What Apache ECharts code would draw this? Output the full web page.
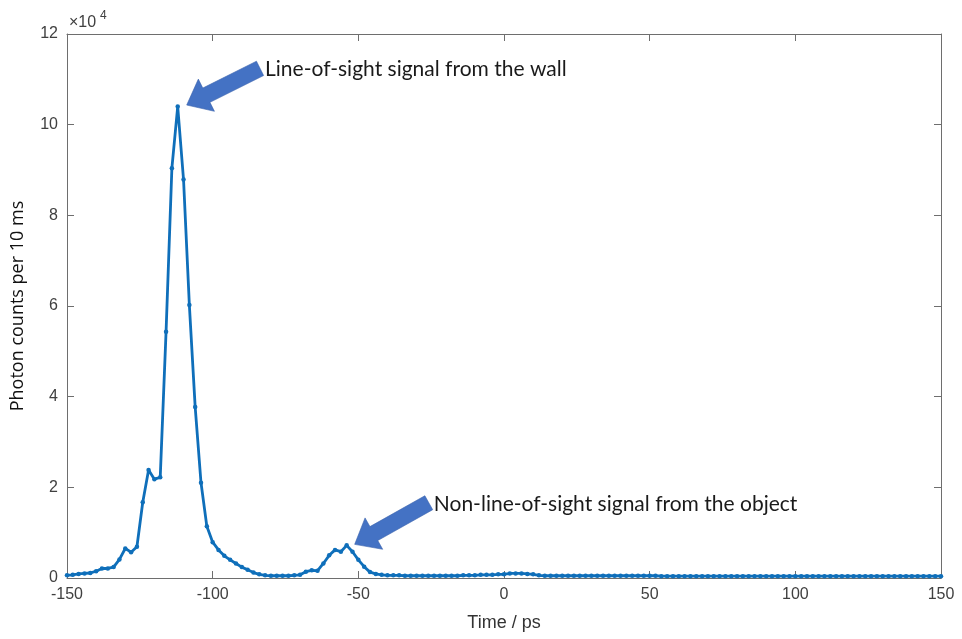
<!DOCTYPE html>
<html>
<head>
<meta charset="utf-8">
<script src="https://cdn.jsdelivr.net/npm/echarts@6/dist/echarts.min.js"></script>
<style>
html,body{margin:0;padding:0;background:#fff;}
#chart{width:962px;height:639px;}
</style>
</head>
<body>
<div id="chart"></div>
<script>
// Time axis (ps) — one sample every 2 ps
const times = [-150,-148,-146,-144,-142,-140,-138,-136,-134,-132,-130,-128,-126,-124,-122,-120,-118,-116,-114,-112,-110,-108,-106,-104,-102,-100,-98,-96,-94,-92,-90,-88,-86,-84,-82,-80,-78,-76,-74,-72,-70,-68,-66,-64,-62,-60,-58,-56,-54,-52,-50,-48,-46,-44,-42,-40,-38,-36,-34,-32,-30,-28,-26,-24,-22,-20,-18,-16,-14,-12,-10,-8,-6,-4,-2,0,2,4,6,8,10,12,14,16,18,20,22,24,26,28,30,32,34,36,38,40,42,44,46,48,50,52,54,56,58,60,62,64,66,68,70,72,74,76,78,80,82,84,86,88,90,92,94,96,98,100,102,104,106,108,110,112,114,116,118,120,122,124,126,128,130,132,134,136,138,140,142,144,146,148,150];

// Photon counts per 10 ms
const counts = [
  600,700,900,1000,1100,1500,2100,2100,2400,4100,
  6500,5700,6900,16700,23800,21800,22200,54300,90400,104000,
  87900,60200,37700,21000,11400,7900,6200,4900,4000,3200,
  2400,1800,1200,800,600,500,500,500,500,600,
  700,1400,1700,1600,3200,5000,6200,5800,7200,5800,
  4000,2500,1300,900,700,
  600,600,600,500,500,500,500,500,500,500,500,500,500,600,600,
  600,700,700,700,800,800,1000,1000,1000,900,800,600,
  500,500,500,500,500,500,500,500,500,500,
  500,500,500,500,500,500,500,500,500,500,
  400,400,400,400,400,400,400,400,400,400,
  400,400,400,400,400,400,400,400,400,400,
  400,400,400,400,400,400,400,400,400,400,
  400,400,400,400,400,400,400,400,400,400,
  400,400,400,400,400,400,400,400,400
];

const xTicks = [-150, -100, -50, 0, 50, 100, 150];
const yTicks = [0, 20000, 40000, 60000, 80000, 100000, 120000];
const yScaleText = ['×10', '4'];

const annotationTexts = ['Line-of-sight signal from the wall', 'Non-line-of-sight signal from the object'];
const annotationAnchors = [[-112, 104000], [-54, 7200]];

const chart = echarts.init(document.getElementById('chart'), null, {renderer: 'canvas'});

const axisColor = '#6e6e6e';
const labelColor = '#404040';
const labelFont = '"Liberation Sans", Arial, sans-serif';

const seriesData = times.map((t, i) => [t, counts[i]]);

const xCommon = {
  type: 'value',
  min: xTicks[0],
  max: xTicks[xTicks.length - 1],
  interval: xTicks[1] - xTicks[0],
  splitLine: {show: false},
  axisLine: {show: true, onZero: false, lineStyle: {color: axisColor, width: 1}},
  axisTick: {show: true, inside: true, length: 7, lineStyle: {color: axisColor}}
};
const yCommon = {
  type: 'value',
  min: yTicks[0],
  max: yTicks[yTicks.length - 1],
  interval: yTicks[1] - yTicks[0],
  splitLine: {show: false},
  axisLine: {show: true, onZero: false, lineStyle: {color: axisColor, width: 1}},
  axisTick: {show: true, inside: true, length: 7, lineStyle: {color: axisColor}}
};

chart.setOption({
  backgroundColor: '#fff',
  animation: false,
  grid: {left: 67, right: 21, top: 34, bottom: 61, containLabel: false, outerBoundsMode: 'none'},
  xAxis: [
    Object.assign({}, xCommon, {
      position: 'bottom',
      name: 'Time / ps',
      nameLocation: 'middle',
      nameGap: 36,
      nameTextStyle: {color: '#333', fontSize: 18, fontFamily: labelFont},
      axisLabel: {show: true, color: labelColor, fontSize: 16, fontFamily: labelFont, margin: 9}
    }),
    Object.assign({}, xCommon, {position: 'top', axisLabel: {show: false}})
  ],
  yAxis: [
    Object.assign({}, yCommon, {
      position: 'left',
      name: 'Photon counts per 10 ms',
      nameLocation: 'middle',
      nameGap: 40,
      nameTextStyle: {color: '#111', fontSize: 18, fontFamily: '"Open Sans", sans-serif'},
      axisLabel: {show: true, color: labelColor, fontSize: 16, fontFamily: labelFont, margin: 9,
        formatter: v => String(v / 10000)}
    }),
    Object.assign({}, yCommon, {position: 'right', axisLabel: {show: false}})
  ],
  series: [{
    type: 'line',
    xAxisIndex: 0,
    yAxisIndex: 0,
    data: seriesData,
    showSymbol: true,
    symbol: 'circle',
    symbolSize: 4.5,
    lineStyle: {color: '#0f6fba', width: 2.8},
    itemStyle: {color: '#0f6fba'},
    z: 3
  }]
});

function arrowPoints(tip, dir, len, headLen, headHalf, shaftHalf) {
  const m = Math.hypot(dir[0], dir[1]);
  const u = [dir[0] / m, dir[1] / m];
  const n = [-u[1], u[0]];
  const p = (a, b) => [tip[0] + u[0] * a + n[0] * b, tip[1] + u[1] * a + n[1] * b];
  return [p(0, 0), p(headLen, headHalf), p(headLen, shaftHalf), p(len, shaftHalf),
          p(len, -shaftHalf), p(headLen, -shaftHalf), p(headLen, -headHalf)];
}

const arrowStyle = [
  {offset: [9, -1.5], dir: [72, -36], len: 82},
  {offset: [8, -1], dir: [73, -41], len: 85}
];

const graphics = [];
annotationAnchors.forEach((a, i) => {
  const px = chart.convertToPixel({gridIndex: 0}, a);
  const s = arrowStyle[i];
  const tip = [px[0] + s.offset[0], px[1] + s.offset[1]];
  const pts = arrowPoints(tip, s.dir, s.len, 22, 18, 8);
  graphics.push({
    type: 'polygon',
    shape: {points: pts},
    style: {fill: '#4472c4', stroke: '#3a63ad', lineWidth: 0.6},
    z: 10
  });
  const m = Math.hypot(s.dir[0], s.dir[1]);
  const tail = [tip[0] + s.dir[0] / m * s.len, tip[1] + s.dir[1] / m * s.len];
  graphics.push({
    type: 'text',
    x: tail[0] + 5,
    y: tail[1] + 1,
    style: {
      text: annotationTexts[i],
      fill: '#1a1a1a',
      font: '21px Lato, "Open Sans", sans-serif',
      textAlign: 'left',
      textVerticalAlign: 'middle'
    },
    z: 10
  });
});

const origin = chart.convertToPixel({gridIndex: 0}, [xTicks[0], yTicks[yTicks.length - 1]]);
graphics.push({
  type: 'text', x: origin[0] + 2, y: origin[1] - 11,
  style: {text: yScaleText[0], fill: labelColor, font: '16px "Liberation Sans", Arial, sans-serif',
    textAlign: 'left', textVerticalAlign: 'middle'}
});
graphics.push({
  type: 'text', x: origin[0] + 33, y: origin[1] - 18,
  style: {text: yScaleText[1], fill: labelColor, font: '12px "Liberation Sans", Arial, sans-serif',
    textAlign: 'left', textVerticalAlign: 'middle'}
});

chart.setOption({graphic: graphics});
</script>
</body>
</html>
